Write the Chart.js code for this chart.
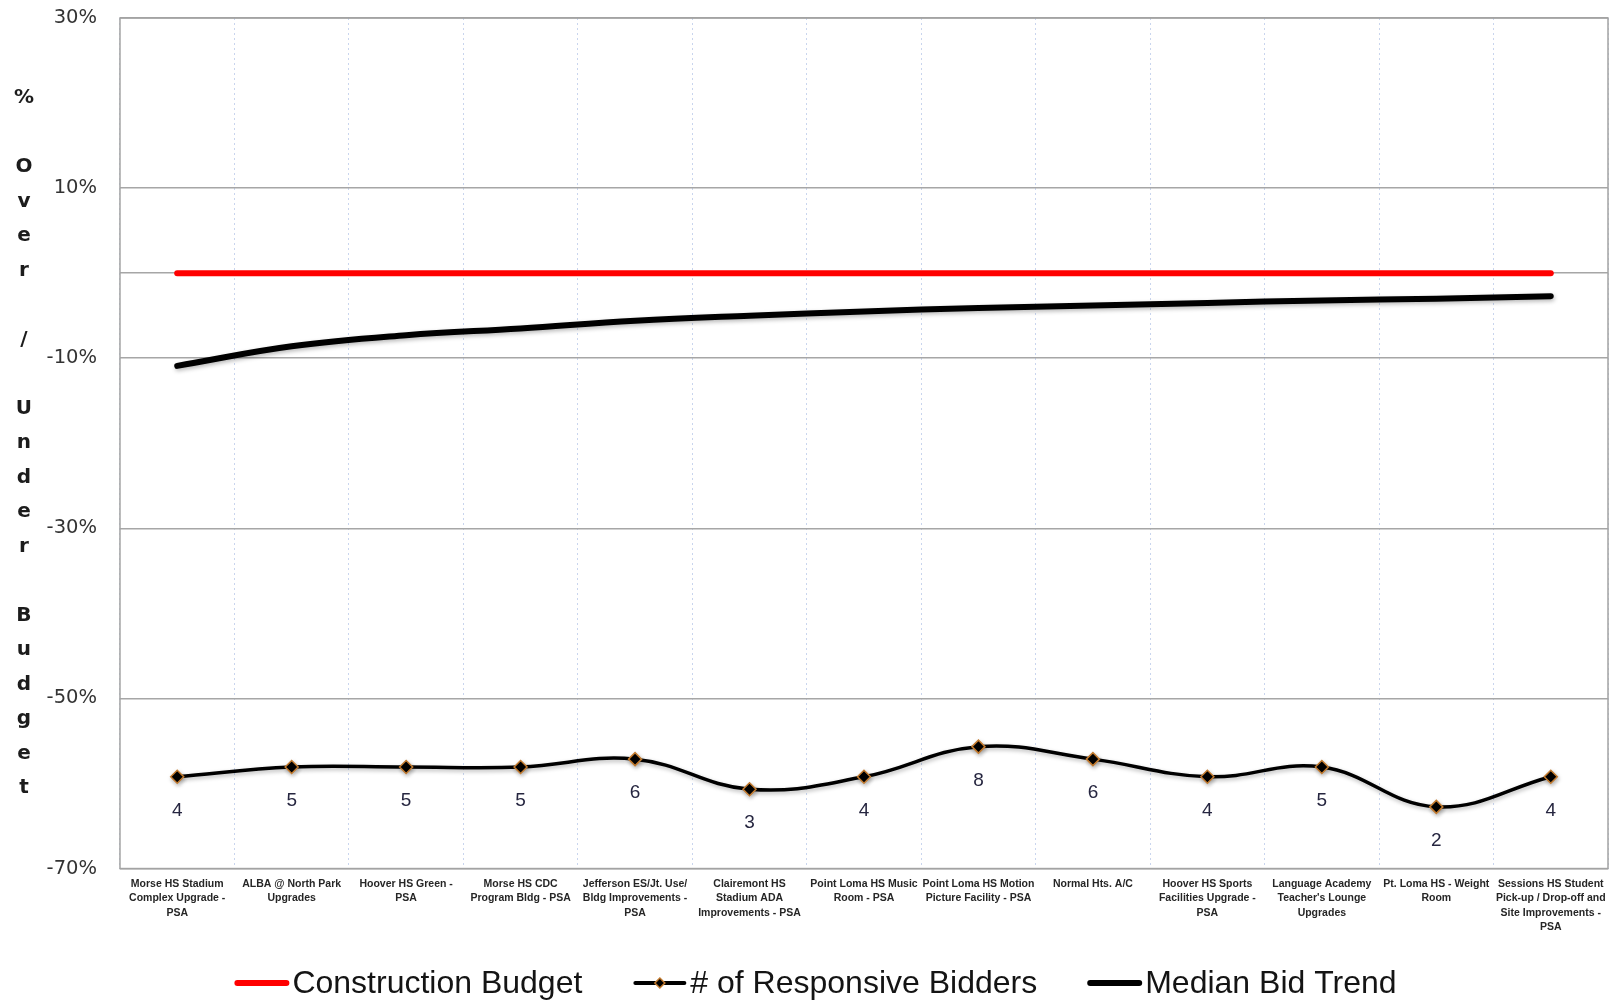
<!DOCTYPE html>
<html>
<head>
<meta charset="utf-8">
<title>Bid Results vs Construction Budget</title>
<script src="https://cdn.jsdelivr.net/npm/chart.js@4.4.1/dist/chart.umd.min.js"></script>
<style>
  html, body { margin: 0; padding: 0; background: #ffffff; overflow: hidden; }
  #wrap { width: 1616px; height: 1000px; position: relative; }
  #chart { display: block; }
</style>
</head>
<body>
<div id="wrap"><canvas id="chart"></canvas></div>
<script>
// Projects (x categories), wrapped the way they are printed under the axis
const projects = [
  ['Morse HS Stadium', 'Complex Upgrade -', 'PSA'],
  ['ALBA @ North Park', 'Upgrades'],
  ['Hoover HS Green -', 'PSA'],
  ['Morse HS CDC', 'Program Bldg - PSA'],
  ['Jefferson ES/Jt. Use/', 'Bldg Improvements -', 'PSA'],
  ['Clairemont HS', 'Stadium ADA', 'Improvements - PSA'],
  ['Point Loma HS Music', 'Room - PSA'],
  ['Point Loma HS Motion', 'Picture Facility - PSA'],
  ['Normal Hts. A/C'],
  ['Hoover HS Sports', 'Facilities Upgrade -', 'PSA'],
  ['Language Academy', "Teacher's Lounge", 'Upgrades'],
  ['Pt. Loma HS - Weight', 'Room'],
  ['Sessions HS Student', 'Pick-up / Drop-off and', 'Site Improvements -', 'PSA']
];

// Construction budget baseline (% over / under)
const budgetPct = [0, 0, 0, 0, 0, 0, 0, 0, 0, 0, 0, 0, 0];

// Number of responsive bidders per project
const bidders = [4, 5, 5, 5, 6, 3, 4, 8, 6, 4, 5, 2, 4];

// Median bid trend (% over / under budget)
const medianTrendPct = [-10.9, -8.6, -7.3, -6.5, -5.6, -5.0, -4.5, -4.1, -3.8, -3.5, -3.2, -3.0, -2.7];

// Percent axis ticks (0 carries a grid line but no label)
const pctTicks = [-70, -50, -30, -10, 0, 10, 30];

const seriesLabels = ['Construction Budget', '# of Responsive Bidders', 'Median Bid Trend'];
const yTitle = '% Over / Under Budget';

// Bidder counts sit on their own hidden log axis
const bidAxisMin = 0.484;
const bidAxisMax = 1.53e8;

// Gray frame round the plot area
const plotFrame = {
  id: 'plotFrame',
  beforeDatasetsDraw(chart) {
    const { ctx, chartArea: a } = chart;
    ctx.save();
    ctx.strokeStyle = '#a3a3a3';
    ctx.lineWidth = 1.5;
    ctx.strokeRect(a.left, a.top, a.right - a.left, a.bottom - a.top);
    ctx.restore();
  }
};

// Soft drop shadow under the two black series
const lineShadow = {
  id: 'lineShadow',
  beforeDatasetDraw(chart, args) {
    if (args.index === 0) return;
    const ctx = chart.ctx;
    ctx.save();
    ctx.shadowColor = 'rgba(0,0,0,0.28)';
    ctx.shadowBlur = 4;
    ctx.shadowOffsetX = 1;
    ctx.shadowOffsetY = 2;
  },
  afterDatasetDraw(chart, args) {
    if (args.index === 0) return;
    chart.ctx.restore();
  }
};

// Vertical axis title written one character per line
const stackedTitle = {
  id: 'stackedTitle',
  afterDraw(chart) {
    const { ctx, chartArea: a } = chart;
    const chars = yTitle.split('');
    const step = 34.5;
    const cx = a.left - 96;
    const cy = (a.top + a.bottom) / 2;
    const y0 = cy - step * (chars.length - 1) / 2;
    ctx.save();
    ctx.font = 'bold 20px "DejaVu Sans"';
    ctx.fillStyle = '#1c1c1c';
    ctx.textAlign = 'center';
    ctx.textBaseline = 'middle';
    chars.forEach((ch, i) => { if (ch !== ' ') ctx.fillText(ch, cx, y0 + i * step); });
    ctx.restore();
  }
};

// Bidder counts printed under each marker
const bidderLabels = {
  id: 'bidderLabels',
  afterDatasetsDraw(chart) {
    const { ctx } = chart;
    const meta = chart.getDatasetMeta(1);
    ctx.save();
    ctx.font = '19px "Liberation Sans"';
    ctx.fillStyle = '#262640';
    ctx.textAlign = 'center';
    ctx.textBaseline = 'middle';
    meta.data.forEach((pt, i) => ctx.fillText(String(bidders[i]), pt.x, pt.y + 34));
    ctx.restore();
  }
};

// Legend along the bottom: line sample then series name
const bottomLegend = {
  id: 'bottomLegend',
  afterDraw(chart) {
    const { ctx } = chart;
    const sampleLen = 53, sampleGap = 4, itemGap = 51;
    ctx.save();
    ctx.font = '32px "Liberation Sans"';
    const widths = seriesLabels.map(t => ctx.measureText(t).width);
    const total = widths.reduce((s, w) => s + sampleLen + sampleGap + w, 0) + itemGap * (seriesLabels.length - 1);
    let x = (chart.width - total) / 2 + 8;
    const y = chart.height - 17;
    seriesLabels.forEach((text, i) => {
      const ds = chart.data.datasets[i];
      ctx.beginPath();
      ctx.lineCap = 'round';
      ctx.strokeStyle = ds.borderColor;
      ctx.lineWidth = i === 1 ? 4 : 6;
      ctx.moveTo(x + 2, y);
      ctx.lineTo(x + sampleLen - 2, y);
      ctx.stroke();
      if (i === 1) {
        const mx = x + sampleLen / 2, r = 5;
        ctx.beginPath();
        ctx.moveTo(mx, y - r); ctx.lineTo(mx + r, y); ctx.lineTo(mx, y + r); ctx.lineTo(mx - r, y); ctx.closePath();
        ctx.fillStyle = '#000';
        ctx.fill();
        ctx.lineWidth = 1.5;
        ctx.strokeStyle = ds.pointBorderColor;
        ctx.stroke();
      }
      ctx.fillStyle = '#141414';
      ctx.textAlign = 'left';
      ctx.textBaseline = 'middle';
      ctx.fillText(text, x + sampleLen + sampleGap, y + 1);
      x += sampleLen + sampleGap + widths[i] + itemGap;
    });
    ctx.restore();
  }
};

new Chart(document.getElementById('chart'), {
  type: 'line',
  data: {
    labels: projects,
    datasets: [
      {
        label: seriesLabels[0],
        data: budgetPct,
        yAxisID: 'y',
        borderColor: '#ff0000',
        borderWidth: 6,
        borderCapStyle: 'round',
        pointRadius: 0,
        tension: 0
      },
      {
        label: seriesLabels[1],
        data: bidders,
        yAxisID: 'yBid',
        borderColor: '#000000',
        borderWidth: 3.5,
        tension: 0.4,
        pointStyle: 'rectRot',
        pointRadius: 6.5,
        pointBackgroundColor: '#000000',
        pointBorderColor: '#c27a2e',
        pointBorderWidth: 1.5
      },
      {
        label: seriesLabels[2],
        data: medianTrendPct,
        yAxisID: 'y',
        borderColor: '#000000',
        borderWidth: 6,
        borderCapStyle: 'round',
        pointRadius: 0,
        tension: 0.4
      }
    ]
  },
  options: {
    responsive: true,
    maintainAspectRatio: false,
    animation: false,
    events: [],
    layout: { padding: { left: 23.6, right: 2, top: 18, bottom: 57.5 } },
    plugins: {
      legend: { display: false },
      tooltip: { enabled: false }
    },
    scales: {
      x: {
        type: 'category',
        offset: true,
        afterFit(scale) { scale.paddingLeft = 0; scale.paddingRight = 0; },
        grid: { offset: true, color: '#c9d5ee', lineWidth: 1, drawTicks: false },
        border: { display: false, dash: [2, 3] },
        ticks: {
          autoSkip: false,
          maxRotation: 0,
          minRotation: 0,
          padding: 8,
          color: '#262626',
          font: { family: 'Liberation Sans', size: 10.5, weight: 'bold', lineHeight: 1.38 }
        }
      },
      y: {
        type: 'linear',
        position: 'left',
        min: -70,
        max: 30,
        afterBuildTicks(scale) { scale.ticks = pctTicks.map(v => ({ value: v })); },
        afterFit(scale) { scale.paddingTop = 12; scale.paddingBottom = 12; },
        grid: { color: '#a6a6a6', lineWidth: 1.5, drawTicks: false },
        border: { display: false },
        ticks: {
          padding: 23,
          color: '#333333',
          font: { family: 'DejaVu Sans', size: 19.5 },
          callback: v => (v === 0 ? '' : v + '%')
        }
      },
      yBid: {
        type: 'logarithmic',
        display: false,
        bounds: 'data',
        min: bidAxisMin,
        max: bidAxisMax
      }
    }
  },
  plugins: [plotFrame, lineShadow, stackedTitle, bidderLabels, bottomLegend]
});
</script>
</body>
</html>
